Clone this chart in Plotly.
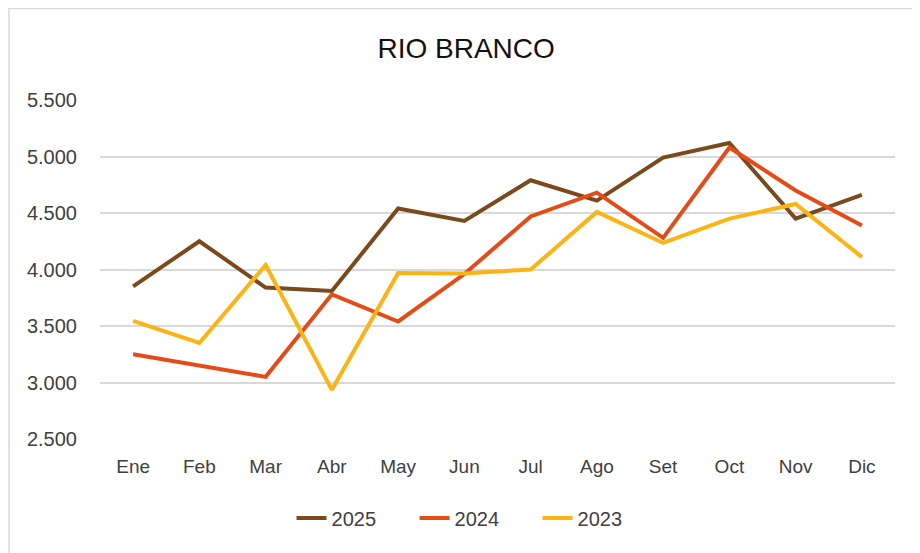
import plotly.graph_objects as go

meses = ["Ene", "Feb", "Mar", "Abr", "May", "Jun", "Jul", "Ago", "Set", "Oct", "Nov", "Dic"]

v2025 = [3850, 4250, 3840, 3810, 4540, 4430, 4790, 4610, 4990, 5120, 4450, 4660]
v2024 = [3250, 3150, 3050, 3780, 3540, 3960, 4470, 4680, 4280, 5080, 4700, 4390]
v2023 = [3545, 3350, 4040, 2935, 3970, 3965, 4000, 4510, 4235, 4450, 4580, 4110]

series = [
    ("2025", v2025, "#7b4a1c"),
    ("2024", v2024, "#e54b17"),
    ("2023", v2023, "#fbb413"),
]

fig = go.Figure()
for nombre, valores, color in series:
    fig.add_trace(go.Scatter(x=meses, y=valores, name=nombre, mode="lines",
                             line=dict(color=color, width=4)))

# the page body adds 8px on the left/top, so margins are 8px smaller
fig.update_layout(
    width=920, height=553,
    margin=dict(l=92, r=33, t=92, b=122),
    paper_bgcolor="white", plot_bgcolor="white",
    separators=",.",
    font=dict(family="Liberation Sans, Arial, sans-serif", size=19, color="#404040"),
    title=dict(text="RIO BRANCO", x=0.498, xanchor="center", y=0.928, yanchor="middle",
               font=dict(size=28, color="#111111")),
    showlegend=True,
    legend=dict(orientation="h", x=0.473, xanchor="center", y=-0.233, yanchor="middle",
                font=dict(size=20, color="#404040"), itemwidth=30, traceorder="normal",
                entrywidth=78, entrywidthmode="pixels"),
    shapes=[dict(type="rect", xref="paper", yref="paper", x0=-0.1145, x1=1.06, y0=-0.5, y1=1.27,
                 line=dict(color="#d9d9d9", width=1.5), fillcolor="rgba(0,0,0,0)", layer="below")],
)

fig.update_xaxes(type="category", range=[-0.5, 11.5], showgrid=False, showline=False,
                 ticks="", ticklabelstandoff=14, zeroline=False, tickfont=dict(size=19))
fig.update_yaxes(range=[2500, 5500], dtick=500, tickformat=",d", showgrid=True,
                 gridcolor="#d9d9d9", gridwidth=1.5, zeroline=False, showline=False,
                 ticks="", ticklabelstandoff=22, tickfont=dict(size=20))

fig.write_html("out.html")
